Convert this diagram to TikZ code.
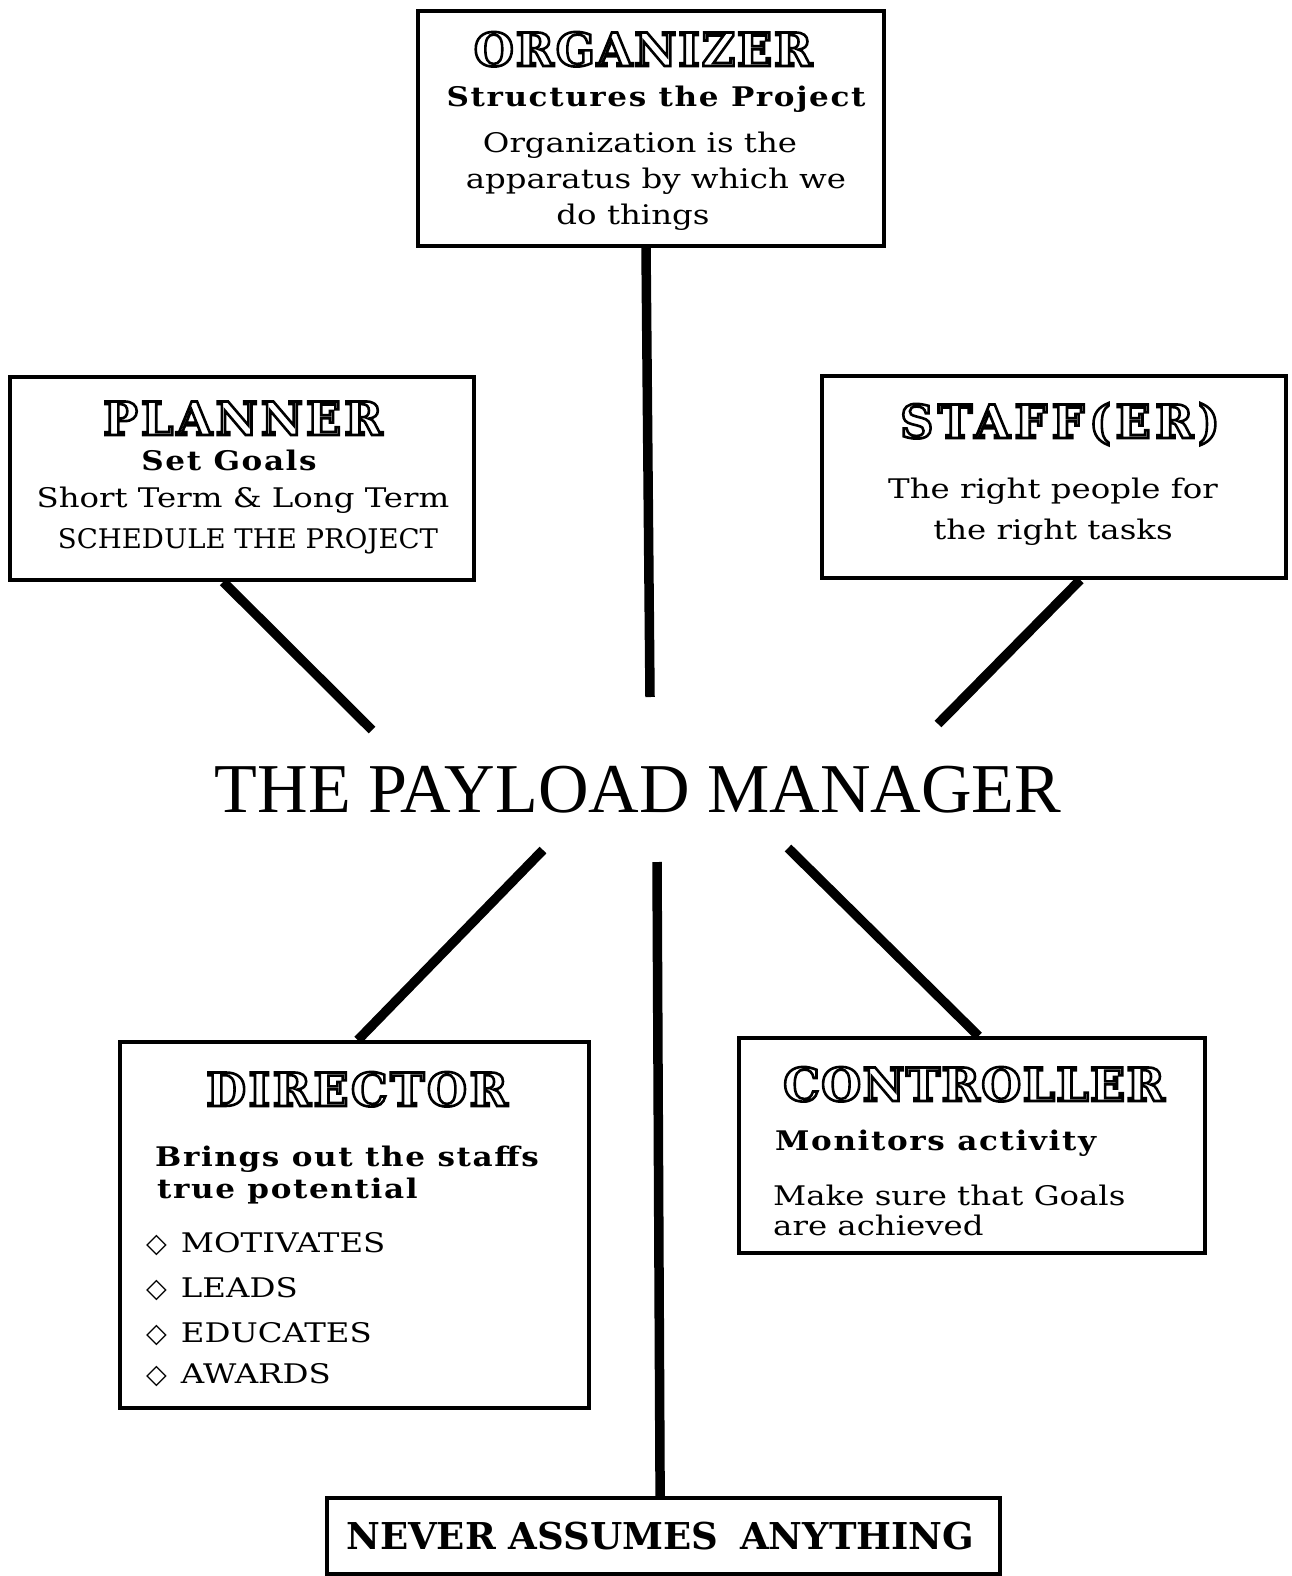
\documentclass[tikz,border=0pt]{standalone}
\usepackage{fontspec}
\usetikzlibrary{calc}
\setmainfont{DejaVu Serif}
\newfontfamily\hdfont{DejaVu Serif Bold}
\newfontfamily\bdfont{DejaVu Serif Bold}[FakeStretch=1.15, LetterSpace=6]
\newfontfamily\nvfont{DejaVu Serif Bold}
\newfontfamily\rgfont{DejaVu Serif}[FakeStretch=1.2]
\newfontfamily\capfont{DejaVu Serif}[FakeStretch=1.02]
\newfontfamily\ttlfont{Liberation Serif}
\newfontfamily\symfont{DejaVu Sans}
\newcommand{\outl}[1]{\special{pdf:literal direct 2 Tr 2.6 w 1 g 0 G}#1\special{pdf:literal direct 0 Tr 0 g}}
\tikzset{
  box/.style={draw=black, line width=3.8pt, fill=white, inner sep=0pt},
  conn/.style={draw=black, line width=9.5pt},
  txt/.style={inner sep=0pt, anchor=base},
  head/.style={txt, font=\hdfont\fontsize{46}{50}\selectfont},
  bold/.style={txt, font=\bdfont\fontsize{27}{30}\selectfont},
  body/.style={txt, font=\rgfont\fontsize{27}{30}\selectfont},
}
\newcommand{\dia}{{\symfont\fontsize{27}{27}\selectfont ◇}\hspace{14pt}}
\begin{document}
\begin{tikzpicture}[x=1pt,y=-1pt]
\useasboundingbox (0,0) rectangle (1292,1576);
% boxes
\node[box, minimum width=466pt, minimum height=235pt] (org) at (651,128.5) {};
\node[box, minimum width=464pt, minimum height=203pt] (plan) at (242,478.5) {};
\node[box, minimum width=464pt, minimum height=202pt] (staff) at (1054,477) {};
\node[box, minimum width=469pt, minimum height=366pt] (dir) at (354.5,1225) {};
\node[box, minimum width=466pt, minimum height=215pt] (ctrl) at (972,1145.5) {};
\node[box, minimum width=673pt, minimum height=76pt] (never) at (663.5,1536) {};
% title
\node[txt, font=\ttlfont\fontsize{70}{80}\selectfont] (title) at (638,812) {THE PAYLOAD MANAGER};
% free ends
\coordinate (eOrg) at (650,697);
\coordinate (ePlan) at (372,730);
\coordinate (eStaff) at (938,724);
\coordinate (eDir) at (543,850);
\coordinate (eCtrl) at (788,848);
\coordinate (eNever) at (657,862);
% connectors
\draw[conn] ($(org.south)+(-5,0)$) -- (eOrg);
\draw[conn] ($(plan.south west)!0.46!(plan.south east)$) -- (ePlan);
\draw[conn] ($(staff.south west)!0.556!(staff.south east)$) -- (eStaff);
\draw[conn] (eDir) -- ($(dir.north west)!0.507!(dir.north east)$);
\draw[conn] (eCtrl) -- ($(ctrl.north west)!0.514!(ctrl.north east)$);
\draw[conn] (eNever) -- ($(never.north west)!0.495!(never.north east)$);
% organizer text
\node[head] (o1) at (643,66) {\addfontfeature{LetterSpace=4}\outl{ORGANIZER}};
\node[bold] (o2) at (656,107) {Structures the Project};
\node[body] (o3) at (640,152) {Organization is the};
\node[body] (o4) at (656,188) {apparatus by which we};
\node[body] (o5) at (633,224) {do things};
% planner text
\node[head] (p1) at (243,435) {\addfontfeature{LetterSpace=7}\outl{PLANNER}};
\node[bold] (p2) at (229,470) {Set Goals};
\node[body] (p3) at (243,507) {Short Term \& Long Term};
\node[body, font=\capfont\fontsize{27}{30}\selectfont] (p4) at (248,548) {SCHEDULE THE PROJECT};
% staffer text
\node[head] (s1) at (1060,438) {\addfontfeature{LetterSpace=10}\outl{STAFF(ER)}};
\node[body] (s2) at (1053,498) {The right people for};
\node[body] (s3) at (1053,539) {the right tasks};
% director text
\node[head] (d1) at (357,1106) {\addfontfeature{LetterSpace=5.5}\outl{DIRECTOR}};
\node[bold, anchor=base west] (d2) at (155,1166) {Brings out the staffs};
\node[bold, anchor=base west] (d3) at (157,1198) {true potential};
\node[body, anchor=base west] (d4) at (146,1252) {\dia MOTIVATES};
\node[body, anchor=base west] (d5) at (146,1297) {\dia LEADS};
\node[body, anchor=base west] (d6) at (146,1342) {\dia EDUCATES};
\node[body, anchor=base west] (d7) at (146,1383) {\dia AWARDS};
% controller text
\node[head] (c1) at (974,1101) {\addfontfeature{LetterSpace=3}\outl{CONTROLLER}};
\node[bold, anchor=base west] (c2) at (775,1150) {Monitors activity};
\node[body, anchor=base west] (c3) at (773,1205) {Make sure that Goals};
\node[body, anchor=base west] (c4) at (773,1235) {are achieved};
% never text
\node[txt, anchor=base west, font=\nvfont\fontsize{37}{42}\selectfont] (n1) at (346,1549) {NEVER ASSUMES\hspace{22pt}ANYTHING};
\end{tikzpicture}
\end{document}
